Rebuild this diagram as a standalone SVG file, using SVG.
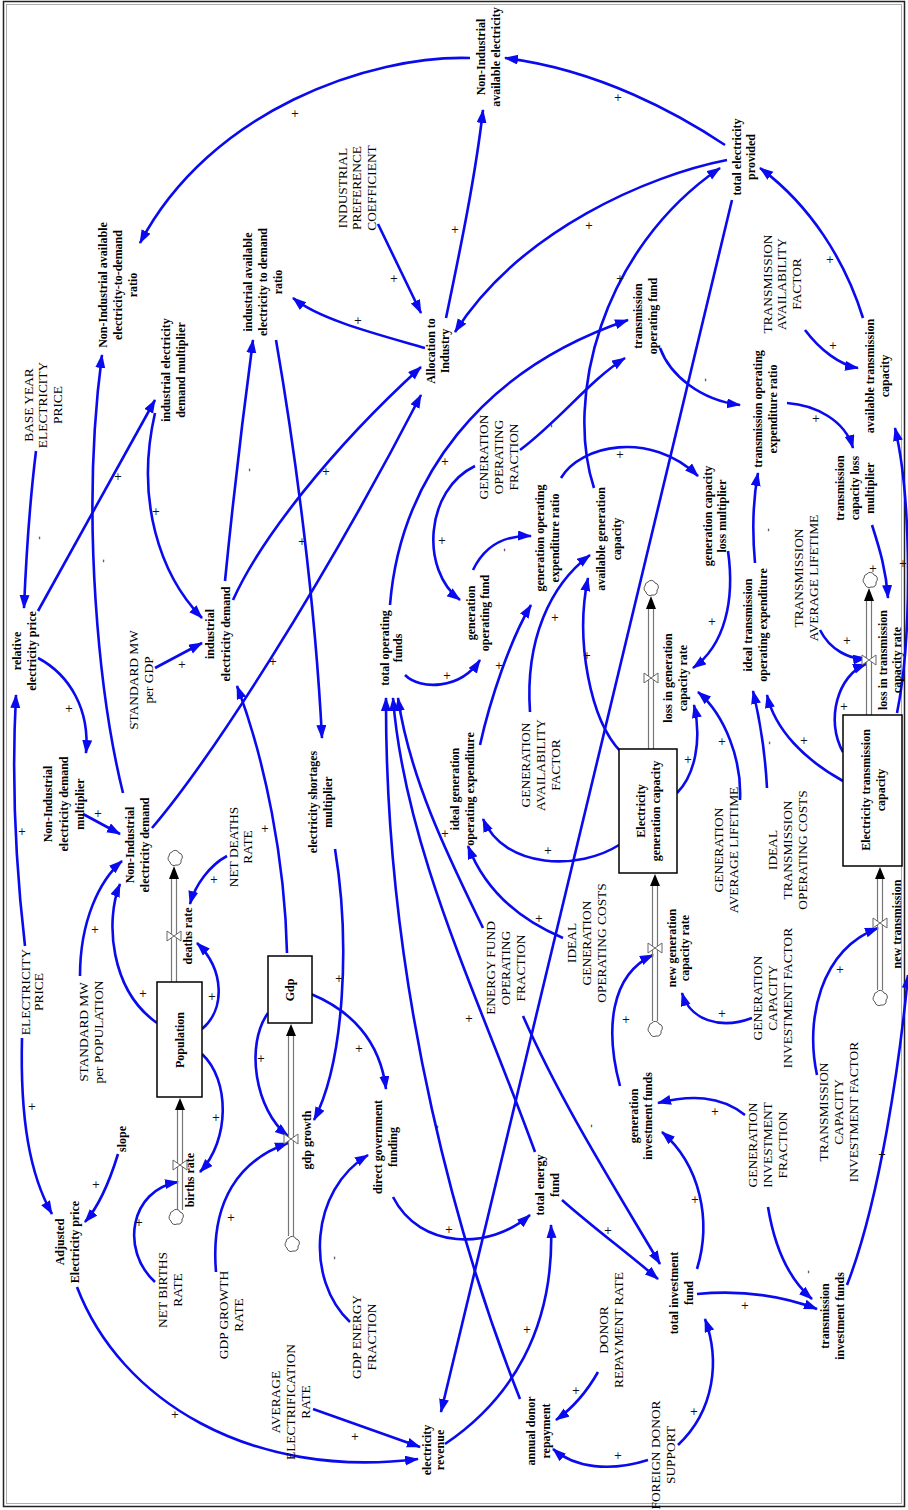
<svg xmlns="http://www.w3.org/2000/svg" width="908" height="1510" viewBox="0 0 908 1510">
<style>
text{text-anchor:middle;dominant-baseline:central;fill:#000}
.v{font-family:"Liberation Serif",serif;font-size:12px;font-weight:bold}
.c{font-family:"Liberation Serif",serif;font-size:13.4px}
.p{font-family:"DejaVu Sans",sans-serif;font-size:10px;fill:#111}
.lk{fill:none;stroke:#0a0aee;stroke-width:2.6;marker-end:url(#ah)}
.pipe{stroke:#777;stroke-width:1.2;fill:none}
.stock{fill:#fff;stroke:#000;stroke-width:1.5}
.cloud{fill:#fff;stroke:#555;stroke-width:1}
.valve{fill:#fff;stroke:#666;stroke-width:1}
.fa{fill:#000}
</style>
<defs>
<marker id="ah" markerUnits="userSpaceOnUse" markerWidth="15" markerHeight="11" refX="13" refY="5" orient="auto">
<path d="M0,0 L14,5 L0,10 Z" fill="#0a0aee"/>
</marker>
<path id="cl" d="M-3,-6 A4,4 0 0 1 4,-5 A4,4 0 0 1 6,2 A4,4 0 0 1 1,7 A4,4 0 0 1 -5,4 A4,4 0 0 1 -6,-2 A4,4 0 0 1 -3,-6 Z"/>
<path id="vl" d="M-7,-5 L7,5 L7,-5 L-7,5 Z"/>
</defs>
<rect x="0" y="0" width="908" height="1510" fill="#fff"/>
<rect x="3.5" y="1.5" width="901" height="1505" fill="none" stroke="#222" stroke-width="1.5"/>
<rect x="6.5" y="4.5" width="895" height="1499" fill="none" stroke="#999" stroke-width="0.8"/>

<g id="connectors">
<path class="lk" d="M725,145 C680,115 600,70 505,58"/>
<path class="lk" d="M470,58 C370,55 210,110 140,243"/>
<path class="lk" d="M446,318 C458,260 475,180 483,110"/>
<path class="lk" d="M378,224 L421,313"/>
<path class="lk" d="M727,160 C650,175 520,230 455,332"/>
<path class="lk" d="M594,488 C565,400 600,250 720,168"/>
<path class="lk" d="M732,200 L441,1412"/>
<path class="lk" d="M390,605 C400,480 480,370 628,320"/>
<path class="lk" d="M660,348 C670,375 700,400 740,405"/>
<path class="lk" d="M520,450 C560,420 590,380 625,358"/>
<path class="lk" d="M475,466 C425,490 420,570 460,600"/>
<path class="lk" d="M405,675 C420,690 460,690 480,660"/>
<path class="lk" d="M473,570 C485,545 505,535 531,536"/>
<path class="lk" d="M561,478 C580,445 650,430 698,476"/>
<path class="lk" d="M728,551 C735,600 725,645 693,668"/>
<path class="lk" d="M787,403 C815,405 845,420 853,448"/>
<path class="lk" d="M872,525 C880,550 886,570 888,598"/>
<path class="lk" d="M820,630 C830,650 850,660 866,658"/>
<path class="lk" d="M843,752 C825,720 838,675 866,664"/>
<path class="lk" d="M897,713 C912,640 912,500 895,428"/>
<path class="lk" d="M863,318 C845,260 810,205 760,168"/>
<path class="lk" d="M805,330 C820,350 840,365 858,368"/>
<path class="lk" d="M755,563 C752,530 753,500 758,473"/>
<path class="lk" d="M767,788 C765,750 760,720 753,691"/>
<path class="lk" d="M843,781 C805,760 775,730 767,695"/>
<path class="lk" d="M677,793 C695,775 702,740 694,705"/>
<path class="lk" d="M740,800 C742,760 725,715 698,692"/>
<path class="lk" d="M621,752 C590,720 575,640 588,578"/>
<path class="lk" d="M619,845 C580,870 505,870 483,819"/>
<path class="lk" d="M563,938 C520,920 485,890 468,846"/>
<path class="lk" d="M480,745 C490,700 510,640 531,605"/>
<path class="lk" d="M530,712 C525,640 550,585 590,555"/>
<path class="lk" d="M483,928 C450,860 410,780 398,698"/>
<path class="lk" d="M523,1016 C560,1100 610,1180 660,1264"/>
<path class="lk" d="M535,1152 C480,1000 405,850 393,698"/>
<path class="lk" d="M520,1399 C465,1260 385,1000 386,698"/>
<path class="lk" d="M562,1200 C590,1225 630,1255 658,1279"/>
<path class="lk" d="M393,1197 C420,1250 490,1250 530,1215"/>
<path class="lk" d="M445,1444 C510,1400 555,1330 551,1225"/>
<path class="lk" d="M350,1322 C305,1280 310,1190 368,1155"/>
<path class="lk" d="M311,994 C350,1010 380,1040 386,1089"/>
<path class="lk" d="M335,849 C350,940 345,1060 314,1120"/>
<path class="lk" d="M268,1013 C245,1045 255,1110 288,1136"/>
<path class="lk" d="M216,1272 C210,1200 240,1160 288,1143"/>
<path class="lk" d="M287,953 C285,860 265,760 237,686"/>
<path class="lk" d="M225,581 C235,480 245,400 253,340"/>
<path class="lk" d="M276,340 C295,450 315,600 322,738"/>
<path class="lk" d="M233,600 C260,540 330,450 421,367"/>
<path class="lk" d="M152,828 C210,760 320,590 421,395"/>
<path class="lk" d="M123,793 C100,700 80,520 102,355"/>
<path class="lk" d="M425,348 C380,335 320,320 293,298"/>
<path class="lk" d="M38,611 L155,400"/>
<path class="lk" d="M36,451 C30,500 26,560 24,608"/>
<path class="lk" d="M155,413 C135,500 160,575 202,618"/>
<path class="lk" d="M155,668 L202,643"/>
<path class="lk" d="M38,658 C70,675 90,710 86,753"/>
<path class="lk" d="M83,814 L120,834"/>
<path class="lk" d="M80,976 C80,920 100,880 122,861"/>
<path class="lk" d="M157,1023 C110,990 105,920 120,884"/>
<path class="lk" d="M202,1029 C225,1010 225,970 197,943"/>
<path class="lk" d="M227,856 C210,865 195,885 190,904"/>
<path class="lk" d="M202,1054 C230,1080 230,1140 200,1172"/>
<path class="lk" d="M155,1282 C120,1250 130,1190 178,1182"/>
<path class="lk" d="M25,946 C15,860 12,770 16,695"/>
<path class="lk" d="M22,1038 C20,1120 30,1175 52,1214"/>
<path class="lk" d="M118,1154 C110,1180 100,1205 85,1222"/>
<path class="lk" d="M77,1287 C120,1400 250,1480 418,1459"/>
<path class="lk" d="M313,1409 L420,1447"/>
<path class="lk" d="M598,1372 C585,1395 570,1410 556,1420"/>
<path class="lk" d="M648,1460 C610,1472 575,1468 553,1449"/>
<path class="lk" d="M678,1445 C715,1410 720,1360 705,1319"/>
<path class="lk" d="M697,1294 C740,1290 780,1295 817,1309"/>
<path class="lk" d="M697,1269 C712,1220 700,1165 662,1132"/>
<path class="lk" d="M745,1115 C720,1095 690,1095 658,1103"/>
<path class="lk" d="M768,1207 C775,1250 790,1280 812,1299"/>
<path class="lk" d="M847,1285 C880,1200 900,1060 908,975"/>
<path class="lk" d="M817,1075 C805,1020 820,950 878,928"/>
<path class="lk" d="M752,1018 C720,1030 690,1020 682,993"/>
<path class="lk" d="M620,1086 C605,1030 610,975 653,955"/>
</g>

<g id="polarity">
<text class="p" x="618" y="97">+</text>
<text class="p" x="295" y="113">+</text>
<text class="p" x="455" y="229">+</text>
<text class="p" x="394" y="278">+</text>
<text class="p" x="358" y="320">+</text>
<text class="p" x="589" y="225">+</text>
<text class="p" x="620" y="278">+</text>
<text class="p" x="445" y="461">+</text>
<text class="p" x="442" y="540">+</text>
<text class="p" x="447" y="675">+</text>
<text class="p" x="620" y="454">+</text>
<text class="p" x="830" y="259">+</text>
<text class="p" x="833" y="345">+</text>
<text class="p" x="816" y="418">+</text>
<text class="p" x="712" y="621">+</text>
<text class="p" x="873" y="568">+</text>
<text class="p" x="903" y="563">+</text>
<text class="p" x="847" y="640">+</text>
<text class="p" x="844" y="706">+</text>
<text class="p" x="804" y="740">+</text>
<text class="p" x="722" y="741">+</text>
<text class="p" x="688" y="759">+</text>
<text class="p" x="118" y="476">+</text>
<text class="p" x="156" y="511">+</text>
<text class="p" x="302" y="541">+</text>
<text class="p" x="326" y="471">+</text>
<text class="p" x="182" y="664">+</text>
<text class="p" x="69" y="708">+</text>
<text class="p" x="273" y="661">+</text>
<text class="p" x="22" y="831">+</text>
<text class="p" x="98" y="813">+</text>
<text class="p" x="95" y="929">+</text>
<text class="p" x="265" y="828">+</text>
<text class="p" x="214" y="879">+</text>
<text class="p" x="143" y="993">+</text>
<text class="p" x="212" y="996">+</text>
<text class="p" x="339" y="978">+</text>
<text class="p" x="261" y="1058">+</text>
<text class="p" x="359" y="1048">+</text>
<text class="p" x="216" y="1117">+</text>
<text class="p" x="32" y="1106">+</text>
<text class="p" x="96" y="1184">+</text>
<text class="p" x="139" y="1222">+</text>
<text class="p" x="231" y="1217">+</text>
<text class="p" x="175" y="1414">+</text>
<text class="p" x="355" y="1436">+</text>
<text class="p" x="449" y="1229">+</text>
<text class="p" x="527" y="1329">+</text>
<text class="p" x="576" y="1390">+</text>
<text class="p" x="618" y="1455">+</text>
<text class="p" x="694" y="1411">+</text>
<text class="p" x="745" y="1305">+</text>
<text class="p" x="695" y="1199">+</text>
<text class="p" x="715" y="1111">+</text>
<text class="p" x="882" y="1154">+</text>
<text class="p" x="840" y="969">+</text>
<text class="p" x="722" y="1013">+</text>
<text class="p" x="626" y="1019">+</text>
<text class="p" x="445" y="833">+</text>
<text class="p" x="548" y="850">+</text>
<text class="p" x="539" y="918">+</text>
<text class="p" x="555" y="617">+</text>
<text class="p" x="587" y="655">+</text>
<text class="p" x="499" y="665">+</text>
<text class="p" x="469" y="1018">+</text>
<text class="p" x="608" y="1230">+</text>
<text class="p" transform="translate(550 426) rotate(-90)">-</text>
<text class="p" transform="translate(503 550) rotate(-90)">-</text>
<text class="p" transform="translate(704 380) rotate(-90)">-</text>
<text class="p" transform="translate(767 530) rotate(-90)">-</text>
<text class="p" transform="translate(768 743) rotate(-90)">-</text>
<text class="p" transform="translate(38 538) rotate(-90)">-</text>
<text class="p" transform="translate(102 561) rotate(-90)">-</text>
<text class="p" transform="translate(248 470) rotate(-90)">-</text>
<text class="p" transform="translate(333 1258) rotate(-90)">-</text>
<text class="p" transform="translate(807 1272) rotate(-90)">-</text>
<text class="p" transform="translate(436 1127) rotate(-90)">-</text>
<text class="p" transform="translate(590 1126) rotate(-90)">-</text>
</g>

<!-- stocks and their flows -->
<g id="population">
<line class="pipe" x1="171.5" y1="982" x2="171.5" y2="878"/><line class="pipe" x1="176.5" y1="982" x2="176.5" y2="878"/>
<polygon class="fa" points="174,866 169,879 179,879"/>
<use href="#cl" class="cloud" x="175" y="858"/>
<line class="pipe" x1="177.5" y1="1210" x2="177.5" y2="1108"/><line class="pipe" x1="182.5" y1="1210" x2="182.5" y2="1108"/>
<polygon class="fa" points="180,1098 175,1110 185,1110"/>
<use href="#cl" class="cloud" x="176" y="1217"/>
<rect class="stock" x="157" y="982" width="45" height="115"/>
<text class="v" transform="translate(0 1040) rotate(-90)"><tspan x="0" y="180">Population</tspan></text>
</g>
<g id="deaths-rate">
<use href="#vl" class="valve" x="174" y="936"/>
<text class="v" transform="translate(0 936) rotate(-90)"><tspan x="0" y="188">deaths rate</tspan></text>
</g>
<g id="births-rate">
<use href="#vl" class="valve" x="180" y="1165"/>
<text class="v" transform="translate(0 1180) rotate(-90)"><tspan x="0" y="190">births rate</tspan></text>
</g>
<g id="gdp">
<line class="pipe" x1="288.5" y1="1236" x2="288.5" y2="1034"/><line class="pipe" x1="293.5" y1="1236" x2="293.5" y2="1034"/>
<polygon class="fa" points="291,1024 286,1036 296,1036"/>
<use href="#cl" class="cloud" x="292" y="1244"/>
<rect class="stock" x="268" y="956" width="44" height="67"/>
<text class="v" transform="translate(0 990) rotate(-90)"><tspan x="0" y="290">Gdp</tspan></text>
</g>
<g id="gdp-growth">
<use href="#vl" class="valve" x="291" y="1139"/>
<text class="v" transform="translate(0 1140) rotate(-90)"><tspan x="0" y="307">gdp growth</tspan></text>
</g>
<g id="generation-capacity">
<line class="pipe" x1="652.5" y1="1021" x2="652.5" y2="884"/><line class="pipe" x1="657.5" y1="1021" x2="657.5" y2="884"/>
<polygon class="fa" points="655,874 650,886 660,886"/>
<use href="#cl" class="cloud" x="655" y="1029"/>
<line class="pipe" x1="648.5" y1="749" x2="648.5" y2="608"/><line class="pipe" x1="653.5" y1="749" x2="653.5" y2="608"/>
<polygon class="fa" points="651,596 646,609 656,609"/>
<use href="#cl" class="cloud" x="651" y="588"/>
<rect class="stock" x="619" y="749" width="58" height="124"/>
<text class="v" transform="translate(0 811) rotate(-90)"><tspan x="0" y="641">Electricity</tspan><tspan x="0" y="656">generation capacity</tspan></text>
</g>
<g id="new-generation-capacity-rate">
<use href="#vl" class="valve" x="655" y="948"/>
<text class="v" transform="translate(0 948) rotate(-90)"><tspan x="0" y="672">new generation</tspan><tspan x="0" y="685">capacity rate</tspan></text>
</g>
<g id="loss-in-generation-capacity-rate">
<use href="#vl" class="valve" x="651" y="678"/>
<text class="v" transform="translate(0 678) rotate(-90)"><tspan x="0" y="668">loss in generation</tspan><tspan x="0" y="683">capacity rate</tspan></text>
</g>
<g id="transmission-capacity">
<line class="pipe" x1="877.5" y1="990" x2="877.5" y2="877"/><line class="pipe" x1="882.5" y1="990" x2="882.5" y2="877"/>
<polygon class="fa" points="880,867 875,879 885,879"/>
<use href="#cl" class="cloud" x="880" y="998"/>
<line class="pipe" x1="866.5" y1="715" x2="866.5" y2="600"/><line class="pipe" x1="871.5" y1="715" x2="871.5" y2="600"/>
<polygon class="fa" points="869,588 864,601 874,601"/>
<use href="#cl" class="cloud" x="870" y="580"/>
<rect class="stock" x="843" y="715" width="59" height="151"/>
<text class="v" transform="translate(0 790) rotate(-90)"><tspan x="0" y="866">Electricity transmission</tspan><tspan x="0" y="881">capacity</tspan></text>
</g>
<g id="new-transmission-capacity-rate">
<use href="#vl" class="valve" x="880" y="923"/>
<text class="v" transform="translate(0 924) rotate(-90)"><tspan x="0" y="897">new transmission</tspan></text>
</g>
<g id="loss-in-transmission-capacity-rate">
<use href="#vl" class="valve" x="869" y="660"/>
<text class="v" transform="translate(0 660) rotate(-90)"><tspan x="0" y="883">loss in transmission</tspan><tspan x="0" y="897">capacity rate</tspan></text>
</g>

<!-- auxiliaries and constants -->
<g id="nonind-available"><text class="v" transform="translate(0 57) rotate(-90)"><tspan x="0" y="481">Non-Industrial</tspan><tspan x="0" y="496">available electricity</tspan></text></g>
<g id="total-electricity"><text class="v" transform="translate(0 157) rotate(-90)"><tspan x="0" y="737">total electricity</tspan><tspan x="0" y="751">provided</tspan></text></g>
<g id="nonind-ratio"><text class="v" transform="translate(0 285) rotate(-90)"><tspan x="0" y="103">Non-Industrial available</tspan><tspan x="0" y="118">electricity-to-demand</tspan><tspan x="0" y="133">ratio</tspan></text></g>
<g id="ind-demand-mult"><text class="v" transform="translate(0 370) rotate(-90)"><tspan x="0" y="166">industrial electricity</tspan><tspan x="0" y="181">demand multiplier</tspan></text></g>
<g id="ind-ratio"><text class="v" transform="translate(0 282) rotate(-90)"><tspan x="0" y="248">industrial available</tspan><tspan x="0" y="263">electricity to demand</tspan><tspan x="0" y="278">ratio</tspan></text></g>
<g id="ind-pref"><text class="c" transform="translate(0 188) rotate(-90)"><tspan x="0" y="342">INDUSTRIAL</tspan><tspan x="0" y="356">PREFERENCE</tspan><tspan x="0" y="371">COEFFICIENT</tspan></text></g>
<g id="allocation"><text class="v" transform="translate(0 351) rotate(-90)"><tspan x="0" y="431">Allocation to</tspan><tspan x="0" y="445">Industry</tspan></text></g>
<g id="base-price"><text class="c" transform="translate(0 405) rotate(-90)"><tspan x="0" y="28">BASE YEAR</tspan><tspan x="0" y="42">ELECTRICITY</tspan><tspan x="0" y="57">PRICE</tspan></text></g>
<g id="relative-price"><text class="v" transform="translate(0 651) rotate(-90)"><tspan x="0" y="17">relative</tspan><tspan x="0" y="32">electricity price</tspan></text></g>
<g id="mw-gdp"><text class="c" transform="translate(0 680) rotate(-90)"><tspan x="0" y="133">STANDARD MW</tspan><tspan x="0" y="148">per GDP</tspan></text></g>
<g id="ind-demand"><text class="v" transform="translate(0 634) rotate(-90)"><tspan x="0" y="210">industrial</tspan><tspan x="0" y="226">electricity demand</tspan></text></g>
<g id="nonind-mult"><text class="v" transform="translate(0 804) rotate(-90)"><tspan x="0" y="48">Non-Industrial</tspan><tspan x="0" y="64">electricity demand</tspan><tspan x="0" y="80">multiplier</tspan></text></g>
<g id="nonind-demand"><text class="v" transform="translate(0 845) rotate(-90)"><tspan x="0" y="130">Non-Industrial</tspan><tspan x="0" y="145">electricity demand</tspan></text></g>
<g id="elec-price"><text class="c" transform="translate(0 992) rotate(-90)"><tspan x="0" y="25">ELECTRICITY</tspan><tspan x="0" y="38">PRICE</tspan></text></g>
<g id="mw-pop"><text class="c" transform="translate(0 1032) rotate(-90)"><tspan x="0" y="83">STANDARD MW</tspan><tspan x="0" y="98">per POPULATION</tspan></text></g>
<g id="net-deaths"><text class="c" transform="translate(0 847) rotate(-90)"><tspan x="0" y="233">NET DEATHS</tspan><tspan x="0" y="247">RATE</tspan></text></g>
<g id="net-births"><text class="c" transform="translate(0 1290) rotate(-90)"><tspan x="0" y="162">NET BIRTHS</tspan><tspan x="0" y="177">RATE</tspan></text></g>
<g id="gdp-growth-rate"><text class="c" transform="translate(0 1315) rotate(-90)"><tspan x="0" y="223">GDP GROWTH</tspan><tspan x="0" y="238">RATE</tspan></text></g>
<g id="avg-electrification"><text class="c" transform="translate(0 1402) rotate(-90)"><tspan x="0" y="275">AVERAGE</tspan><tspan x="0" y="290">ELECTRIFICATION</tspan><tspan x="0" y="305">RATE</tspan></text></g>
<g id="adjusted-price"><text class="v" transform="translate(0 1242) rotate(-90)"><tspan x="0" y="60">Adjusted</tspan><tspan x="0" y="75">Electricity price</tspan></text></g>
<g id="slope"><text class="v" transform="translate(0 1139) rotate(-90)"><tspan x="0" y="122">slope</tspan></text></g>
<g id="direct-gov"><text class="v" transform="translate(0 1147) rotate(-90)"><tspan x="0" y="378">direct government</tspan><tspan x="0" y="393">funding</tspan></text></g>
<g id="gdp-energy"><text class="c" transform="translate(0 1337) rotate(-90)"><tspan x="0" y="356">GDP ENERGY</tspan><tspan x="0" y="371">FRACTION</tspan></text></g>
<g id="total-energy-fund"><text class="v" transform="translate(0 1185) rotate(-90)"><tspan x="0" y="540">total energy</tspan><tspan x="0" y="555">fund</tspan></text></g>
<g id="elec-revenue"><text class="v" transform="translate(0 1450) rotate(-90)"><tspan x="0" y="427">electricity</tspan><tspan x="0" y="440">revenue</tspan></text></g>
<g id="donor-repayment"><text class="v" transform="translate(0 1431) rotate(-90)"><tspan x="0" y="531">annual donor</tspan><tspan x="0" y="546">repayment</tspan></text></g>
<g id="donor-rate"><text class="c" transform="translate(0 1330) rotate(-90)"><tspan x="0" y="603">DONOR</tspan><tspan x="0" y="618">REPAYMENT RATE</tspan></text></g>
<g id="foreign-support"><text class="c" transform="translate(0 1455) rotate(-90)"><tspan x="0" y="655">FOREIGN DONOR</tspan><tspan x="0" y="670">SUPPORT</tspan></text></g>
<g id="total-investment"><text class="v" transform="translate(0 1293) rotate(-90)"><tspan x="0" y="674">total investment</tspan><tspan x="0" y="689">fund</tspan></text></g>
<g id="trans-investment"><text class="v" transform="translate(0 1316) rotate(-90)"><tspan x="0" y="825">transmission</tspan><tspan x="0" y="840">investment funds</tspan></text></g>
<g id="gen-investment"><text class="v" transform="translate(0 1116) rotate(-90)"><tspan x="0" y="634">generation</tspan><tspan x="0" y="648">investment funds</tspan></text></g>
<g id="gen-inv-fraction"><text class="c" transform="translate(0 1145) rotate(-90)"><tspan x="0" y="752">GENERATION</tspan><tspan x="0" y="767">INVESTMENT</tspan><tspan x="0" y="782">FRACTION</tspan></text></g>
<g id="trans-cap-inv-factor"><text class="c" transform="translate(0 1112) rotate(-90)"><tspan x="0" y="823">TRANSMISSION</tspan><tspan x="0" y="838">CAPACITY</tspan><tspan x="0" y="853">INVESTMENT FACTOR</tspan></text></g>
<g id="gen-cap-inv-factor"><text class="c" transform="translate(0 998) rotate(-90)"><tspan x="0" y="757">GENERATION</tspan><tspan x="0" y="772">CAPACITY</tspan><tspan x="0" y="787">INVESTMENT FACTOR</tspan></text></g>
<g id="gen-avg-lifetime"><text class="c" transform="translate(0 850) rotate(-90)"><tspan x="0" y="718">GENERATION</tspan><tspan x="0" y="733">AVERAGE LIFETIME</tspan></text></g>
<g id="ideal-trans-costs"><text class="c" transform="translate(0 850) rotate(-90)"><tspan x="0" y="772">IDEAL</tspan><tspan x="0" y="787">TRANSMISSION</tspan><tspan x="0" y="802">OPERATING COSTS</tspan></text></g>
<g id="trans-avg-lifetime"><text class="c" transform="translate(0 578) rotate(-90)"><tspan x="0" y="798">TRANSMISSION</tspan><tspan x="0" y="813">AVERAGE LIFETIME</tspan></text></g>
<g id="ideal-trans-exp"><text class="v" transform="translate(0 625) rotate(-90)"><tspan x="0" y="748">ideal transmission</tspan><tspan x="0" y="763">operating expenditure</tspan></text></g>
<g id="trans-loss-mult"><text class="v" transform="translate(0 488) rotate(-90)"><tspan x="0" y="840">transmission</tspan><tspan x="0" y="855">capacity loss</tspan><tspan x="0" y="870">multiplier</tspan></text></g>
<g id="trans-exp-ratio"><text class="v" transform="translate(0 409) rotate(-90)"><tspan x="0" y="758">transmission operating</tspan><tspan x="0" y="773">expenditure ratio</tspan></text></g>
<g id="avail-trans"><text class="v" transform="translate(0 376) rotate(-90)"><tspan x="0" y="870">available transmission</tspan><tspan x="0" y="885">capacity</tspan></text></g>
<g id="trans-avail-factor"><text class="c" transform="translate(0 284) rotate(-90)"><tspan x="0" y="767">TRANSMISSION</tspan><tspan x="0" y="781">AVAILABILITY</tspan><tspan x="0" y="796">FACTOR</tspan></text></g>
<g id="trans-op-fund"><text class="v" transform="translate(0 316) rotate(-90)"><tspan x="0" y="638">transmission</tspan><tspan x="0" y="653">operating fund</tspan></text></g>
<g id="gen-loss-mult"><text class="v" transform="translate(0 516) rotate(-90)"><tspan x="0" y="708">generation capacity</tspan><tspan x="0" y="722">loss multiplier</tspan></text></g>
<g id="avail-gen"><text class="v" transform="translate(0 539) rotate(-90)"><tspan x="0" y="601">available generation</tspan><tspan x="0" y="617">capacity</tspan></text></g>
<g id="gen-avail-factor"><text class="c" transform="translate(0 765) rotate(-90)"><tspan x="0" y="525">GENERATION</tspan><tspan x="0" y="540">AVAILABILITY</tspan><tspan x="0" y="555">FACTOR</tspan></text></g>
<g id="ideal-gen-exp"><text class="v" transform="translate(0 789) rotate(-90)"><tspan x="0" y="455">ideal generation</tspan><tspan x="0" y="470">operating expenditure</tspan></text></g>
<g id="energy-fund-op-fraction"><text class="c" transform="translate(0 968) rotate(-90)"><tspan x="0" y="490">ENERGY FUND</tspan><tspan x="0" y="505">OPERATING</tspan><tspan x="0" y="520">FRACTION</tspan></text></g>
<g id="ideal-gen-costs"><text class="c" transform="translate(0 943) rotate(-90)"><tspan x="0" y="571">IDEAL</tspan><tspan x="0" y="586">GENERATION</tspan><tspan x="0" y="601">OPERATING COSTS</tspan></text></g>
<g id="shortage-mult"><text class="v" transform="translate(0 802) rotate(-90)"><tspan x="0" y="313">electricity shortages</tspan><tspan x="0" y="328">multiplier</tspan></text></g>
<g id="total-op-funds"><text class="v" transform="translate(0 648) rotate(-90)"><tspan x="0" y="385">total operating</tspan><tspan x="0" y="398">funds</tspan></text></g>
<g id="gen-op-fund"><text class="v" transform="translate(0 613) rotate(-90)"><tspan x="0" y="471">generation</tspan><tspan x="0" y="485">operating fund</tspan></text></g>
<g id="gen-op-fraction"><text class="c" transform="translate(0 457) rotate(-90)"><tspan x="0" y="483">GENERATION</tspan><tspan x="0" y="498">OPERATING</tspan><tspan x="0" y="513">FRACTION</tspan></text></g>
<g id="gen-exp-ratio"><text class="v" transform="translate(0 538) rotate(-90)"><tspan x="0" y="540">generation operating</tspan><tspan x="0" y="555">expenditure ratio</tspan></text></g>
</svg>
